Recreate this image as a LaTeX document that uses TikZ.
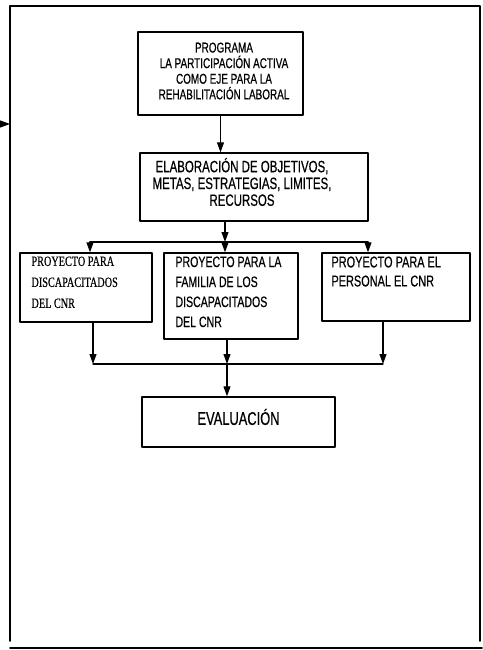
\documentclass[tikz,border=0pt]{standalone}
\usepackage{fontspec}
\usepackage{tikz}
\usetikzlibrary{arrows,arrows.meta}
\newfontfamily\narrowsans{Liberation Sans}[FakeStretch=0.7,FakeBold=0.5]
\newfontfamily\narrowserif{Liberation Serif}[FakeStretch=0.72,FakeBold=0.4]

\begin{document}
\begin{tikzpicture}[x=1pt,y=-1pt,line cap=round,line join=round,>={Triangle[width=7pt,length=10pt]},
  box/.style={draw,line width=1.4pt,rectangle,inner sep=0pt},
  lbl/.style={inner sep=0pt,anchor=north west,align=left,xshift=12pt,yshift=-4pt},
  mid/.style={inner sep=0pt,align=center},
  conn/.style={->,line width=1.1pt},
  frame/.style={line width=1.6pt}]
\useasboundingbox (0,0) rectangle (482,650);
\draw[frame] (10,641) -- (10,6) -- (480,6) -- (480,641);
\draw[frame] (10,648) -- (482,648);
\coordinate (src) at (0,124);
\coordinate (hit) at (10,124);
\draw[conn] (src) -- (hit);
\node[box,minimum width=165pt,minimum height=83pt,label={[mid,xshift=3.5pt,yshift=2.5pt,font=\narrowsans\fontsize{14.2}{15.6}\selectfont]center:PROGRAMA\\LA PARTICIPACIÓN ACTIVA\\COMO EJE PARA LA\\REHABILITACIÓN LABORAL}] (prog) at (220.5,73.5) {};
\node[box,minimum width=228pt,minimum height=68pt,label={[mid,xshift=-12pt,yshift=5pt,font=\narrowsans\fontsize{16.4}{16.8}\selectfont]center:ELABORACIÓN DE OBJETIVOS{,}\\METAS{,} ESTRATEGIAS{,} LIMITES{,}\\RECURSOS}] (elab) at (254,187) {};
\node[box,minimum width=132pt,minimum height=69pt,label={[lbl,font=\narrowserif\fontsize{14.2}{21}\selectfont]north west:PROYECTO PARA\\DISCAPACITADOS\\DEL CNR}] (pdis) at (86,287.5) {};
\node[box,minimum width=134pt,minimum height=86pt,label={[lbl,font=\narrowsans\fontsize{15.1}{20}\selectfont]north west:PROYECTO PARA LA\\FAMILIA DE LOS\\DISCAPACITADOS\\DEL CNR}] (pfam) at (231,296) {};
\node[box,minimum width=148pt,minimum height=68pt,label={[lbl,xshift=-2pt,font=\narrowsans\fontsize{15.6}{19}\selectfont]north west:PROYECTO PARA EL\\PERSONAL EL CNR}] (ppers) at (396,287) {};
\node[box,minimum width=193pt,minimum height=50pt,label={[mid,yshift=5pt,font=\narrowsans\fontsize{18.4}{19}\selectfont]center:EVALUACIÓN}] (eval) at (238.5,422) {};
\coordinate (bl) at (90,242);
\coordinate (bc) at (225,242);
\coordinate (brr) at (368,242);
\coordinate (jl) at (93,364);
\coordinate (jc) at (227,364);
\coordinate (jr) at (383,364);
\draw[conn] (prog) -- (prog |- elab.north);
\draw[conn] (bc |- elab.south) -- (bc);
\draw[line width=1.1pt] (bl) -- (brr);
\draw[conn] (bl) -- (bl |- pdis.north);
\draw[conn] (bc) -- (bc |- pfam.north);
\draw[conn] (brr) -- (brr |- ppers.north);
\draw[conn] (jl |- pdis.south) -- (jl);
\draw[conn] (jc |- pfam.south) -- (jc);
\draw[conn] (jr |- ppers.south) -- (jr);
\draw[line width=1.1pt] (jl) -- (jr);
\draw[conn] (jc) -- (jc |- eval.north);
\end{tikzpicture}
\end{document}
